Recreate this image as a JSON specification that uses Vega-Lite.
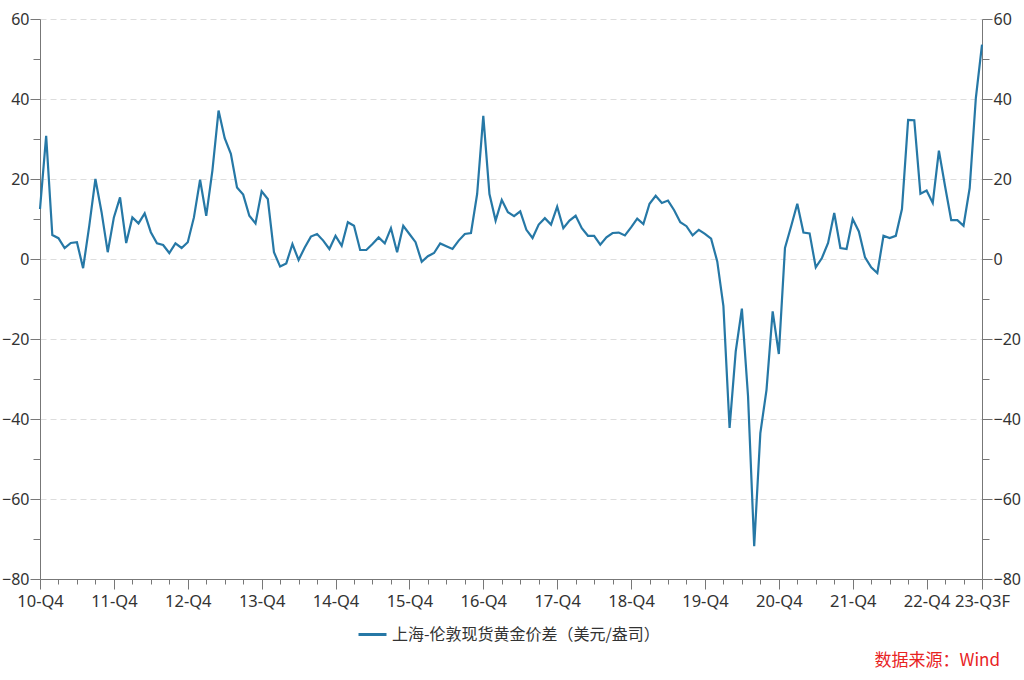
{
  "$schema": "https://vega.github.io/schema/vega-lite/v6.json",
  "autosize": {"type": "none"},
  "width": 942,
  "height": 560,
  "padding": {"left": 40, "top": 19, "right": 42, "bottom": 101},
  "background": "white",
  "config": {"view": {"stroke": null}, "font": "Noto Sans CJK SC"},
  "title": {"text": "数据来源：Wind", "orient": "bottom", "anchor": "end", "frame": "group", "color": "#e8231f", "fontSize": 17, "fontWeight": "normal", "font": "Noto Sans CJK SC", "offset": 10, "dx": 18},
  "data": {"values": [
    {"m":0,"v":12.5},{"m":1,"v":30.8},{"m":2,"v":6.0},{"m":3,"v":5.2},{"m":4,"v":2.7},{"m":5,"v":4.0},{"m":6,"v":4.2},{"m":7,"v":-2.3},{"m":8,"v":8.3},{"m":9,"v":20.0},{"m":10,"v":11.7},{"m":11,"v":1.7},
    {"m":12,"v":10.4},{"m":13,"v":15.4},{"m":14,"v":4.0},{"m":15,"v":10.4},{"m":16,"v":8.9},{"m":17,"v":11.4},{"m":18,"v":6.7},{"m":19,"v":3.9},{"m":20,"v":3.5},{"m":21,"v":1.5},{"m":22,"v":3.9},{"m":23,"v":2.75},
    {"m":24,"v":4.2},{"m":25,"v":10.4},{"m":26,"v":19.8},{"m":27,"v":10.8},{"m":28,"v":22.1},{"m":29,"v":37.1},{"m":30,"v":30.2},{"m":31,"v":26.3},{"m":32,"v":17.9},{"m":33,"v":16.1},{"m":34,"v":10.8},{"m":35,"v":8.9},
    {"m":36,"v":16.9},{"m":37,"v":15.0},{"m":38,"v":1.7},{"m":39,"v":-1.9},{"m":40,"v":-1.1},{"m":41,"v":3.75},{"m":42,"v":-0.25},{"m":43,"v":2.9},{"m":44,"v":5.6},{"m":45,"v":6.25},{"m":46,"v":4.6},{"m":47,"v":2.5},
    {"m":48,"v":5.8},{"m":49,"v":3.3},{"m":50,"v":9.2},{"m":51,"v":8.3},{"m":52,"v":2.25},{"m":53,"v":2.25},{"m":54,"v":3.75},{"m":55,"v":5.4},{"m":56,"v":3.9},{"m":57,"v":7.7},{"m":58,"v":1.7},{"m":59,"v":8.3},
    {"m":60,"v":6.25},{"m":61,"v":4.2},{"m":62,"v":-0.7},{"m":63,"v":0.7},{"m":64,"v":1.5},{"m":65,"v":3.9},{"m":66,"v":3.2},{"m":67,"v":2.5},{"m":68,"v":4.6},{"m":69,"v":6.25},{"m":70,"v":6.5},{"m":71,"v":16.25},
    {"m":72,"v":35.8},{"m":73,"v":16.25},{"m":74,"v":9.6},{"m":75,"v":14.75},{"m":76,"v":11.7},{"m":77,"v":10.7},{"m":78,"v":11.9},{"m":79,"v":7.3},{"m":80,"v":5.25},{"m":81,"v":8.6},{"m":82,"v":10.2},{"m":83,"v":8.6},
    {"m":84,"v":13.1},{"m":85,"v":7.7},{"m":86,"v":9.6},{"m":87,"v":10.8},{"m":88,"v":7.7},{"m":89,"v":5.8},{"m":90,"v":5.8},{"m":91,"v":3.6},{"m":92,"v":5.4},{"m":93,"v":6.5},{"m":94,"v":6.6},{"m":95,"v":5.9},
    {"m":96,"v":7.9},{"m":97,"v":10.1},{"m":98,"v":8.75},{"m":99,"v":13.8},{"m":100,"v":15.8},{"m":101,"v":14.0},{"m":102,"v":14.6},{"m":103,"v":12.2},{"m":104,"v":9.2},{"m":105,"v":8.2},{"m":106,"v":5.9},{"m":107,"v":7.3},
    {"m":108,"v":6.3},{"m":109,"v":5.1},{"m":110,"v":-0.6},{"m":111,"v":-11.8},{"m":112,"v":-42.25},{"m":113,"v":-23.1},{"m":114,"v":-12.4},{"m":115,"v":-34.3},{"m":116,"v":-71.8},{"m":117,"v":-43.5},{"m":118,"v":-32.7},{"m":119,"v":-13.1},
    {"m":120,"v":-23.75},{"m":121,"v":2.75},{"m":122,"v":8.2},{"m":123,"v":13.8},{"m":124,"v":6.6},{"m":125,"v":6.4},{"m":126,"v":-2.1},{"m":127,"v":0.25},{"m":128,"v":4.0},{"m":129,"v":11.5},{"m":130,"v":2.75},{"m":131,"v":2.5},
    {"m":132,"v":10.0},{"m":133,"v":6.9},{"m":134,"v":0.4},{"m":135,"v":-2.1},{"m":136,"v":-3.5},{"m":137,"v":5.8},{"m":138,"v":5.25},{"m":139,"v":5.8},{"m":140,"v":12.5},{"m":141,"v":34.8},{"m":142,"v":34.7},{"m":143,"v":16.3},
    {"m":144,"v":17.1},{"m":145,"v":14.0},{"m":146,"v":27.1},{"m":147,"v":18.2},{"m":148,"v":9.7},{"m":149,"v":9.7},{"m":150,"v":8.3},{"m":151,"v":17.75},{"m":152,"v":40.25},{"m":153,"v":53.6}
  ]},
  "encoding": {
    "x": {
      "field": "m", "type": "quantitative",
      "scale": {"domain": [0, 153], "nice": false, "zero": false},
      "axis": {
        "title": null,
        "values": [0,3,6,9,12,15,18,21,24,27,30,33,36,39,42,45,48,51,54,57,60,63,66,69,72,75,78,81,84,87,90,93,96,99,102,105,108,111,114,117,120,123,126,129,132,135,138,141,144,147,150,153],
        "labelExpr": "datum.value == 153 ? '23-Q3F' : (datum.value % 12 == 0 ? (10 + datum.value / 12) + '-Q4' : '')",
        "labelOverlap": false,
        "labelFlush": false,
        "labelFont": "Noto Sans",
        "labelFontSize": 16.5,
        "labelColor": "#333333",
        "labelPadding": 4,
        "domainColor": "#777777",
        "tickColor": "#777777",
        "tickSize": {"condition": {"test": "datum.value % 12 == 0 || datum.value == 153", "value": 10}, "value": 5},
        "grid": false
      }
    }
  },
  "layer": [
    {
      "mark": {"type": "line", "strokeWidth": 2.2, "interpolate": "linear"},
      "encoding": {
        "y": {
          "field": "v", "type": "quantitative",
          "scale": {"domain": [-80, 60], "nice": false, "zero": false},
          "axis": {
            "title": null, "orient": "left",
            "values": [-80,-70,-60,-50,-40,-30,-20,-10,0,10,20,30,40,50,60],
            "labelExpr": "datum.value % 20 == 0 ? datum.label : ''",
            "labelFont": "Noto Sans", "labelFontSize": 16, "labelColor": "#333333", "labelPadding": 1,
            "domainColor": "#777777", "tickColor": "#777777",
            "tickSize": {"condition": {"test": "datum.value % 20 == 0", "value": 10}, "value": 7},
            "grid": true, "gridColor": "#dddddd", "gridDash": [6, 4], "gridWidth": 1,
            "gridOpacity": {"condition": {"test": "datum.value % 20 == 0 && datum.value != -80", "value": 1}, "value": 0}
          }
        },
        "color": {
          "datum": "上海-伦敦现货黄金价差（美元/盎司）",
          "type": "nominal",
          "scale": {"range": ["#2678a6"]},
          "legend": {
            "title": null, "orient": "none", "legendX": 317, "legendY": 600, "direction": "horizontal",
            "symbolType": "stroke", "symbolSize": 784, "symbolStrokeWidth": 3, "labelLimit": 0,
            "labelFont": "Noto Sans CJK SC", "labelFontSize": 16, "labelColor": "#333333"
          }
        }
      }
    },
    {
      "mark": {"type": "line", "strokeWidth": 2, "strokeOpacity": 0},
      "encoding": {
        "y": {
          "field": "v", "type": "quantitative",
          "scale": {"domain": [-80, 60], "nice": false, "zero": false},
          "axis": {
            "title": null, "orient": "right",
            "values": [-80,-70,-60,-50,-40,-30,-20,-10,0,10,20,30,40,50,60],
            "labelExpr": "datum.value % 20 == 0 ? datum.label : ''",
            "labelFont": "Noto Sans", "labelFontSize": 16, "labelColor": "#333333", "labelPadding": 1,
            "domainColor": "#777777", "tickColor": "#777777",
            "tickSize": {"condition": {"test": "datum.value % 20 == 0", "value": 10}, "value": 7},
            "grid": false
          }
        }
      }
    }
  ],
  "resolve": {"scale": {"y": "independent"}}
}
